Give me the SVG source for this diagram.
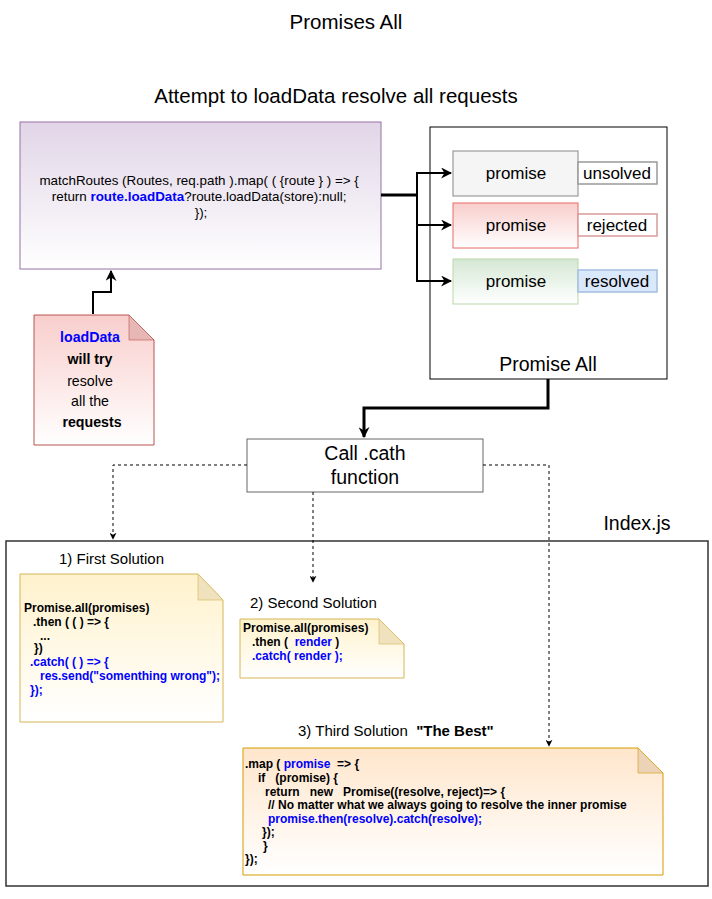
<svg xmlns="http://www.w3.org/2000/svg" width="712" height="899" viewBox="0 0 712 899">
<style>
text{font-family:"Liberation Sans",Arial,sans-serif;fill:#000}
.t20{font-size:20.5px}
.t19{font-size:19.5px}
.t16{font-size:17px}
.t15{font-size:15px}
.code{font-size:12px;font-weight:bold}
.blue{fill:#0000ff}
.thick{fill:none;stroke:#000;stroke-width:2}
.dash{fill:none;stroke:#000;stroke-width:1;stroke-dasharray:3 3}
</style>
<defs>
<linearGradient id="gPurple" x1="0" y1="0" x2="0" y2="1"><stop offset="0" stop-color="#e1d5e7"/><stop offset="1" stop-color="#ffffff"/></linearGradient>
<linearGradient id="gRed" x1="0" y1="0" x2="0" y2="1"><stop offset="0" stop-color="#f8cecc"/><stop offset="1" stop-color="#ffffff"/></linearGradient>
<linearGradient id="gGreen" x1="0" y1="0" x2="0" y2="1"><stop offset="0" stop-color="#d5e8d4"/><stop offset="1" stop-color="#ffffff"/></linearGradient>
<linearGradient id="gYellow" x1="0" y1="0" x2="0" y2="1"><stop offset="0" stop-color="#fff2cc"/><stop offset="1" stop-color="#ffffff"/></linearGradient>
<linearGradient id="gOrange" x1="0" y1="0" x2="0" y2="1"><stop offset="0" stop-color="#ffe6cc"/><stop offset="1" stop-color="#ffffff"/></linearGradient>
<marker id="ah" markerUnits="userSpaceOnUse" viewBox="0 0 10 10" refX="9" refY="5" markerWidth="11" markerHeight="11" orient="auto"><path d="M0,0 L10,5 L0,10 L3,5 z" fill="#000"/></marker>
<marker id="ahs" markerUnits="userSpaceOnUse" viewBox="0 0 10 10" refX="9" refY="5" markerWidth="7" markerHeight="7" orient="auto"><path d="M0,0 L10,5 L0,10 L3,5 z" fill="#000"/></marker>
</defs>
<rect width="712" height="899" fill="#fff"/>

<text class="t20" x="346" y="29" text-anchor="middle">Promises All</text>
<text class="t20" x="336" y="103" text-anchor="middle">Attempt to loadData resolve all requests</text>

<g id="index-js">
<rect x="6" y="541" width="702" height="345" fill="#fff" stroke="#333" stroke-width="1.5"/>
<text class="t19" x="637" y="530" text-anchor="middle">Index.js</text>
</g>

<g id="promise-all">
<rect x="430" y="127" width="237" height="252" fill="#fff" stroke="#000" stroke-width="1"/>
<text class="t19" x="548" y="371" text-anchor="middle">Promise All</text>
</g>

<g id="match-routes">
<rect x="20" y="122" width="361" height="147" fill="url(#gPurple)" stroke="#9673a6"/>
<text font-size="13.4" text-anchor="middle">
<tspan x="201" y="185">matchRoutes (Routes, req.path ).map( ( {route } ) =&gt; {</tspan>
<tspan x="201" y="201">return <tspan class="blue" font-weight="bold">route.loadData</tspan>?route.loadData(store):null;</tspan>
<tspan x="201" y="217">});</tspan>
</text>
</g>

<g id="promise-unsolved">
<rect x="453" y="151" width="125" height="45" fill="#f5f5f5" stroke="#888"/>
<text class="t16" x="516" y="179" text-anchor="middle">promise</text>
<rect x="578" y="162" width="79" height="22" fill="#fff" stroke="#999" stroke-width="1.5"/>
<text class="t16" x="617" y="179" text-anchor="middle">unsolved</text>
</g>
<g id="promise-rejected">
<rect x="453" y="203" width="125" height="45" fill="url(#gRed)" stroke="#ea6b66"/>
<text class="t16" x="516" y="231" text-anchor="middle">promise</text>
<rect x="578" y="214" width="79" height="22" fill="#fff" stroke="#d79b9b" stroke-width="1.5"/>
<text class="t16" x="617" y="231" text-anchor="middle">rejected</text>
</g>
<g id="promise-resolved">
<rect x="453" y="259" width="125" height="45" fill="url(#gGreen)" stroke="#b9d7a8"/>
<text class="t16" x="516" y="287" text-anchor="middle">promise</text>
<rect x="578" y="270" width="79" height="22" fill="#dae8fc" stroke="#a4bde0" stroke-width="1.5"/>
<text class="t16" x="617" y="287" text-anchor="middle">resolved</text>
</g>

<g id="loaddata-note">
<path d="M34,315 H129 L154,340 V445 H34 Z" fill="url(#gRed)" stroke="#b85450"/>
<path d="M129,315 V340 H154 Z" fill="#e6b7b5" stroke="#b85450" stroke-opacity="0.6"/>
<text font-size="14.2" text-anchor="middle">
<tspan x="92" y="342" class="blue" font-weight="bold">loadData</tspan>
<tspan x="92" y="364" font-weight="bold">will try</tspan>
<tspan x="92" y="386">resolve</tspan>
<tspan x="92" y="406">all the</tspan>
<tspan x="92" y="427" font-weight="bold">requests</tspan>
</text>
</g>

<g id="call-catch">
<rect x="247" y="439" width="236" height="53" fill="#fff" stroke="#666"/>
<text class="t19" x="365" y="460" text-anchor="middle">Call .cath</text>
<text class="t19" x="365" y="484" text-anchor="middle">function</text>
</g>

<g id="first-solution">
<text class="t15" x="59" y="564">1) First Solution</text>
<path d="M20,574 H198 L223,600 V722 H20 Z" fill="url(#gYellow)" stroke="#d6b656"/>
<path d="M198,574 V600 H223 Z" fill="#f0e2bd" stroke="#d6b656" stroke-opacity="0.6"/>
<text class="code">
<tspan x="24" y="612">Promise.all(promises)</tspan>
<tspan x="33" y="626">.then ( ( ) =&gt; {</tspan>
<tspan x="40" y="640">...</tspan>
<tspan x="34" y="652">})</tspan>
<tspan x="30" y="666" class="blue">.catch( ( ) =&gt; {</tspan>
<tspan x="40" y="680" class="blue">res.send("somenthing wrong");</tspan>
<tspan x="30" y="694" class="blue">});</tspan>
</text>
</g>

<g id="second-solution">
<text class="t15" x="250" y="608">2) Second Solution</text>
<path d="M240,619 H379 L404,644 V678 H240 Z" fill="url(#gYellow)" stroke="#d6b656"/>
<path d="M379,619 V644 H404 Z" fill="#f0e2bd" stroke="#d6b656" stroke-opacity="0.6"/>
<text class="code" xml:space="preserve"><tspan x="243" y="632">Promise.all(promises)</tspan><tspan x="252" y="646">.then (  <tspan class="blue">render</tspan> )</tspan><tspan x="252" y="660" class="blue">.catch( render );</tspan></text>
</g>

<g id="third-solution">
<text class="t15" x="298" y="736" xml:space="preserve">3) Third Solution  <tspan font-weight="bold">"The Best"</tspan></text>
<path d="M243,748 H638 L663,773 V875 H243 Z" fill="url(#gOrange)" stroke="#d79b00"/>
<path d="M638,748 V773 H663 Z" fill="#ecd2b6" stroke="#d79b00" stroke-opacity="0.6"/>
<text class="code" xml:space="preserve"><tspan x="245" y="768">.map ( <tspan class="blue">promise</tspan>  =&gt; {</tspan><tspan x="258" y="782">if   (promise) {</tspan><tspan x="265" y="796">return   new   Promise((resolve, reject)=&gt; {</tspan><tspan x="268" y="809">// No matter what we always going to resolve the inner promise</tspan><tspan x="268" y="823" class="blue">promise.then(resolve).catch(resolve);</tspan><tspan x="262" y="836">});</tspan><tspan x="263" y="850">}</tspan><tspan x="245" y="863">});</tspan></text>
</g>

<g id="connectors">
<path d="M381,195 H417" fill="none" stroke="#000" stroke-width="3"/>
<path class="thick" d="M417,195 V173 H451" marker-end="url(#ah)"/>
<path class="thick" d="M417,195 V225 H451" marker-end="url(#ah)"/>
<path class="thick" d="M417,195 V281 H451" marker-end="url(#ah)"/>
<path class="thick" d="M93,314 V292 H111 V271" marker-end="url(#ah)"/>
<path d="M548,379 V408 H364 V437" fill="none" stroke="#000" stroke-width="3" marker-end="url(#ah)"/>
<path class="dash" d="M247,465 H113 V539" marker-end="url(#ahs)"/>
<path class="dash" d="M313,492 V582" marker-end="url(#ahs)"/>
<path class="dash" d="M483,465 H549 V746" marker-end="url(#ahs)"/>
</g>
</svg>
